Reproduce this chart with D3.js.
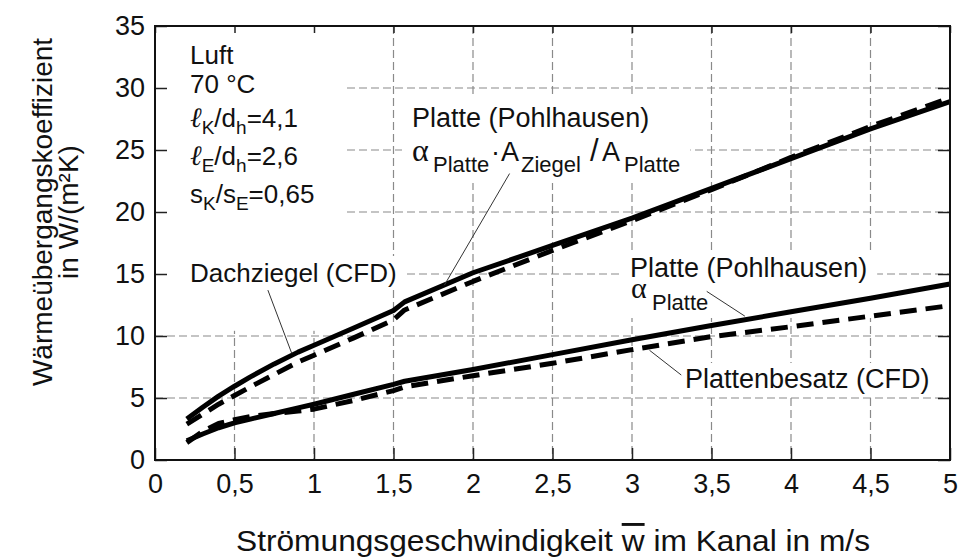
<!DOCTYPE html>
<html>
<head>
<meta charset="utf-8">
<script src="https://cdn.jsdelivr.net/npm/d3@7"></script>
<style>
  body { margin: 0; background: #fff; }
  svg { display: block; font-family: "Liberation Sans", Arial, sans-serif; }
</style>
</head>
<body>
<div id="chart"></div>
<script>
// flow speed in m/s
var speed = [0.2, 0.3, 0.4, 0.5, 0.6, 0.75, 0.9, 1, 1.25, 1.5, 1.57, 2, 2.5, 3, 3.5, 4, 4.5, 5];
// Platte (Pohlhausen) alpha * A_Ziegel / A_Platte
var plateScaled = [3.3, 4.25, 5.15, 5.95, 6.7, 7.75, 8.7, 9.25, 10.65, 12.05, 12.75, 15.1, 17.3, 19.5, 21.9, 24.3, 26.7, 28.9];
// Dachziegel (CFD)
var roofTileCfd = [2.9, 3.7, 4.5, 5.2, 5.9, 6.9, 7.9, 8.45, 9.85, 11.3, 12.1, 14.4, 16.9, 19.3, 21.8, 24.4, 26.9, 29.2];
// Platte (Pohlhausen) alpha
var plateAlpha = [1.55, 2.1, 2.6, 3.0, 3.3, 3.75, 4.2, 4.5, 5.3, 6.1, 6.35, 7.3, 8.5, 9.7, 10.85, 11.95, 13.05, 14.2];
// Plattenbesatz (CFD)
var plateCfd = [1.4, 2.3, 2.95, 3.25, 3.5, 3.75, 3.95, 4.1, 4.8, 5.6, 5.9, 6.8, 7.8, 8.9, 9.95, 10.75, 11.6, 12.45];

var xTicks = [0, 0.5, 1, 1.5, 2, 2.5, 3, 3.5, 4, 4.5, 5];
var yTicks = [0, 5, 10, 15, 20, 25, 30, 35];

var width = 963, height = 558;
var margin = {top: 26, right: 13, bottom: 98, left: 155};

var x = d3.scaleLinear().domain([0, 5]).range([margin.left, width - margin.right]);
var y = d3.scaleLinear().domain([0, 35]).range([height - margin.bottom, margin.top]);
var comma = d => String(d).replace(".", ",");

var svg = d3.select("#chart").append("svg")
    .attr("width", width)
    .attr("height", height);

var gridLayer = svg.append("g");
var maskLayer = svg.append("g");
var curveLayer = svg.append("g");
var labelLayer = svg.append("g");
var axisLayer = svg.append("g");

/* dashed grid */
gridLayer.selectAll("line.v")
    .data(xTicks.slice(1, -1))
    .join("line")
    .attr("x1", d => x(d)).attr("x2", d => x(d))
    .attr("y1", y(35)).attr("y2", y(0))
    .attr("stroke", "#8a8a8a").attr("stroke-width", 1.2)
    .attr("stroke-dasharray", "8,4");
gridLayer.selectAll("line.h")
    .data(yTicks.slice(1, -1))
    .join("line")
    .attr("x1", x(0)).attr("x2", x(5))
    .attr("y1", d => y(d)).attr("y2", d => y(d))
    .attr("stroke", "#8a8a8a").attr("stroke-width", 1.2)
    .attr("stroke-dasharray", "8,4");

// blank area behind the parameter block
maskLayer.append("rect")
    .attr("x", x(0) + 1).attr("y", y(35) + 1)
    .attr("width", x(1.2) - x(0)).attr("height", y(10.5) - y(35))
    .attr("fill", "#fff");

/* curves */
var line = d3.line()
    .x((d, i) => x(speed[i]))
    .y(d => y(d));

var series = [
    {values: plateScaled, dash: null},
    {values: roofTileCfd, dash: "17,9"},
    {values: plateAlpha, dash: null},
    {values: plateCfd, dash: "17,9"}
];

curveLayer.selectAll("path")
    .data(series)
    .join("path")
    .attr("d", d => line(d.values))
    .attr("fill", "none")
    .attr("stroke", "#000")
    .attr("stroke-width", 5)
    .attr("stroke-linejoin", "round")
    .attr("stroke-dasharray", d => d.dash);

/* leader lines, in data units */
var leaders = [
    [0.71, 13.7, 0.86, 8.6],
    [2.23, 23.1, 1.82, 14.1],
    [3.47, 13.6, 3.71, 11.6],
    [3.31, 6.85, 3.11, 8.85]
];
curveLayer.selectAll("line.leader")
    .data(leaders)
    .join("line")
    .attr("x1", d => x(d[0])).attr("y1", d => y(d[1]))
    .attr("x2", d => x(d[2])).attr("y2", d => y(d[3]))
    .attr("stroke", "#333").attr("stroke-width", 1);

/* rich text helper: parts = [text, kind, optional x] where kind is main / sub / alpha / ell / big */
function richText(g, px, py, parts, opts) {
    var t = g.append("text").attr("x", px).attr("y", py).attr("fill", "#111");
    var shifted = false;
    parts.forEach(function(p) {
        var span = t.append("tspan").text(p[0]);
        var isSub = p[1] == "sub";
        if (p[2] != null) span.attr("x", p[2]);
        if (isSub && !shifted) span.attr("dy", opts.shift);
        if (!isSub && shifted) span.attr("dy", -opts.shift);
        shifted = isSub;
        if (isSub) span.attr("font-size", opts.sub);
        else if (p[1] == "alpha") span.attr("font-size", opts.alpha).attr("font-family", "Liberation Serif, Times New Roman, serif");
        else if (p[1] == "ell") span.attr("font-size", opts.main + 2).attr("font-family", "Liberation Serif, serif").attr("font-style", "italic");
        else if (p[1] == "big") span.attr("font-size", opts.main + 4);
        else span.attr("font-size", opts.main);
    });
    return t;
}

function maskBehind(el, padX, padY) {
    var b = el.node().getBBox();
    maskLayer.append("rect")
        .attr("x", b.x - padX).attr("y", b.y - padY)
        .attr("width", b.width + 2 * padX).attr("height", b.height + 2 * padY)
        .attr("fill", "#fff");
}

// parameter block
var info = labelLayer.append("g");
var infoOpts = {main: 26, sub: 19, alpha: 26, shift: 7};
richText(info, 190, 64, [["Luft", "main"]], infoOpts);
richText(info, 190, 93, [["70 °C", "main"]], infoOpts);
richText(info, 190, 127, [["ℓ", "ell"], ["K", "sub"], ["/d", "main"], ["h", "sub"], ["=4,1", "main"]], infoOpts);
richText(info, 190, 165, [["ℓ", "ell"], ["E", "sub"], ["/d", "main"], ["h", "sub"], ["=2,6", "main"]], infoOpts);
richText(info, 190, 203, [["s", "main"], ["K", "sub"], ["/s", "main"], ["E", "sub"], ["=0,65", "main"]], infoOpts);

var dach = richText(labelLayer, 190, 282, [["Dachziegel (CFD)", "main"]], {main: 26, sub: 21, alpha: 30, shift: 11});
maskBehind(dach, 8, 2);

var upper = labelLayer.append("g");
var upOpts = {main: 27, sub: 22, alpha: 32, shift: 11};
richText(upper, 412, 127, [["Platte (Pohlhausen)", "main"]], upOpts);
richText(upper, 412, 161, [
    ["α", "alpha", 412], ["Platte", "sub", 433], ["·", "main", 491], ["A", "main", 501],
    ["Ziegel", "sub", 521], ["/", "big", 590], ["A", "main", 602], ["Platte", "sub", 624]
], upOpts);
maskBehind(upper, 10, 6);

var lower = labelLayer.append("g");
richText(lower, 630, 277, [["Platte (Pohlhausen)", "main"]], upOpts);
richText(lower, 631, 298, [["α", "alpha"], ["Platte", "sub", 652]], {main: 27, sub: 22, alpha: 30, shift: 12});
maskBehind(lower, 10, 3);

var besatz = richText(labelLayer, 685, 388, [["Plattenbesatz (CFD)", "main"]], upOpts);
maskBehind(besatz, 6, 1);

/* axes with inward ticks */
axisLayer.append("g")
    .attr("transform", `translate(${x(0)},0)`)
    .call(d3.axisLeft(y).tickValues(yTicks).tickSize(-12).tickPadding(10).tickFormat(comma));
axisLayer.append("g")
    .attr("transform", `translate(0,${y(0)})`)
    .call(d3.axisBottom(x).tickValues(xTicks).tickSize(-12).tickPadding(14).tickFormat(comma));
axisLayer.append("g")
    .attr("transform", `translate(0,${y(35)})`)
    .call(d3.axisTop(x).tickValues(xTicks).tickSize(-7).tickFormat(""));
axisLayer.append("g")
    .attr("transform", `translate(${x(5)},0)`)
    .call(d3.axisRight(y).tickValues(yTicks).tickSize(-12).tickFormat(""));

axisLayer.selectAll(".domain").remove();
axisLayer.selectAll(".tick line").attr("stroke", "#222").attr("stroke-width", 1.5);
axisLayer.selectAll(".tick text")
    .attr("font-family", "Liberation Sans, Arial, sans-serif")
    .attr("font-size", 27)
    .attr("fill", "#111");

axisLayer.append("rect")
    .attr("x", x(0)).attr("y", y(35))
    .attr("width", x(5) - x(0)).attr("height", y(0) - y(35))
    .attr("fill", "none").attr("stroke", "#111").attr("stroke-width", 2);

/* axis titles */
var xTitle = svg.append("text")
    .attr("x", 236)
    .attr("y", 551)
    .attr("font-size", 29)
    .attr("textLength", 634)
    .attr("lengthAdjust", "spacingAndGlyphs")
    .attr("fill", "#111");
xTitle.append("tspan").text("Strömungsgeschwindigkeit ");
xTitle.append("tspan").text("w").style("text-decoration", "overline");
xTitle.append("tspan").text(" im Kanal in m/s");

var yTitle = svg.append("text")
    .attr("transform", "translate(52,212) rotate(-90)")
    .attr("text-anchor", "middle")
    .attr("font-size", 28)
    .attr("fill", "#111");
yTitle.append("tspan").attr("x", 0).attr("y", 0).text("Wärmeübergangskoeffizient");
yTitle.append("tspan").attr("x", 0).attr("y", 26).text("in W/(m²K)");
</script>
</body>
</html>
